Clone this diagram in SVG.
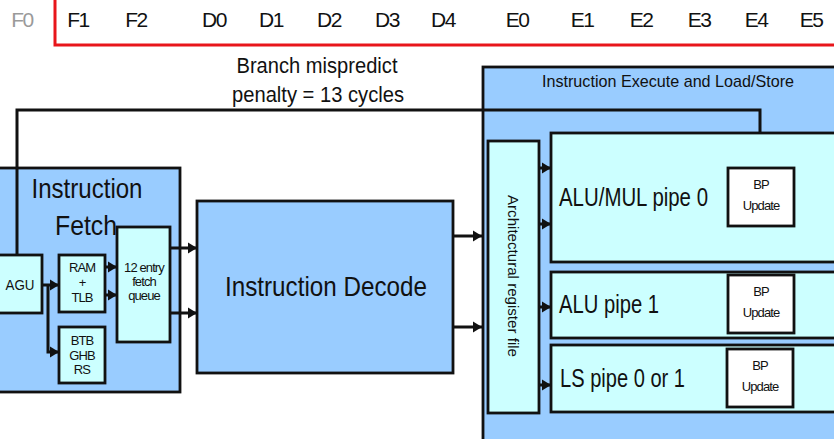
<svg xmlns="http://www.w3.org/2000/svg" width="834" height="439" viewBox="0 0 834 439">
<style>
text{font-family:"Liberation Sans",Arial,sans-serif;fill:#111}
.blue{fill:#99ccff;stroke:#111;stroke-width:2.8}
.cyan{fill:#ccffff;stroke:#111;stroke-width:2.8}
.white{fill:#fff;stroke:#111;stroke-width:2.8}
.stage{font-size:21px;letter-spacing:-1.5px;text-anchor:middle}
.sm{font-size:13px;text-anchor:middle;letter-spacing:-0.9px}
.ln{fill:none;stroke:#111;stroke-width:3}
</style>
<defs>
<marker id="ah" viewBox="0 0 10 12" markerWidth="9" markerHeight="12" refX="10" refY="6" markerUnits="userSpaceOnUse" orient="auto">
<path d="M0,0 L10,6 L0,12 z" fill="#111"/>
</marker>
</defs>
<rect width="834" height="439" fill="#fff"/>
<g id="stages">
<rect x="55" y="-5" width="790" height="50" fill="none" stroke="#e8161b" stroke-width="3"/>
<text class="stage" x="22" y="27" style="fill:#9a9a9a">F0</text>
<text class="stage" x="78" y="27">F1</text>
<text class="stage" x="136" y="27">F2</text>
<text class="stage" x="214" y="27">D0</text>
<text class="stage" x="271" y="27">D1</text>
<text class="stage" x="329" y="27">D2</text>
<text class="stage" x="387" y="27">D3</text>
<text class="stage" x="443" y="27">D4</text>
<text class="stage" x="517" y="27">E0</text>
<text class="stage" x="582" y="27">E1</text>
<text class="stage" x="641" y="27">E2</text>
<text class="stage" x="699" y="27">E3</text>
<text class="stage" x="756" y="27">E4</text>
<text class="stage" x="811" y="27">E5</text>
</g>
<g id="penalty">
<text x="317" y="73" font-size="22" text-anchor="middle" textLength="161" lengthAdjust="spacingAndGlyphs">Branch mispredict</text>
<text x="318" y="102" font-size="22" text-anchor="middle" textLength="172" lengthAdjust="spacingAndGlyphs">penalty = 13 cycles</text>
</g>
<g id="fetch">
<rect class="blue" x="-5" y="168" width="185" height="224"/>
<text x="87" y="198" font-size="28" text-anchor="middle" textLength="111" lengthAdjust="spacingAndGlyphs">Instruction</text>
<text x="86" y="235" font-size="28" text-anchor="middle" textLength="62" lengthAdjust="spacingAndGlyphs">Fetch</text>
</g>
<g id="execute">
<rect class="blue" x="483" y="67" width="360" height="380"/>
<text x="668" y="87" font-size="17" text-anchor="middle" textLength="252" lengthAdjust="spacingAndGlyphs">Instruction Execute and Load/Store</text>
</g>
<g id="agu">
<rect class="cyan" x="-5" y="255" width="47" height="58"/>
<text x="20" y="290" font-size="15" text-anchor="middle" textLength="29" lengthAdjust="spacingAndGlyphs">AGU</text>
</g>
<g id="ramtlb">
<rect class="cyan" x="59" y="255" width="46" height="57"/>
<text class="sm" x="82" y="272">RAM</text>
<text class="sm" x="82" y="287">+</text>
<text class="sm" x="82" y="302">TLB</text>
</g>
<g id="btb">
<rect class="cyan" x="59" y="327" width="46" height="56"/>
<text class="sm" x="82" y="345">BTB</text>
<text class="sm" x="82" y="360">GHB</text>
<text class="sm" x="82" y="374">RS</text>
</g>
<g id="queue">
<rect class="cyan" x="117" y="227" width="53" height="115"/>
<text class="sm" x="144" y="272" font-size="12">12 entry</text>
<text class="sm" x="144" y="286" font-size="12">fetch</text>
<text class="sm" x="144" y="300" font-size="12">queue</text>
</g>
<g id="decode">
<rect class="blue" x="197" y="201" width="256" height="172"/>
<text x="326" y="296" font-size="28" text-anchor="middle" textLength="202" lengthAdjust="spacingAndGlyphs">Instruction Decode</text>
</g>
<g id="regfile">
<rect class="cyan" x="488" y="141" width="51" height="272"/>
<text transform="translate(508,276) rotate(90)" font-size="14" text-anchor="middle" textLength="162" lengthAdjust="spacingAndGlyphs">Architectural register file</text>
</g>
<g id="pipe0">
<rect class="cyan" x="551" y="133" width="295" height="129"/>
<text x="559" y="206" font-size="25" textLength="149" lengthAdjust="spacingAndGlyphs">ALU/MUL pipe 0</text>
<rect class="white" x="728" y="168" width="66" height="58"/>
<text class="sm" x="761" y="189" font-size="14">BP</text>
<text class="sm" x="761" y="210">Update</text>
</g>
<g id="pipe1">
<rect class="cyan" x="551" y="272" width="295" height="66"/>
<text x="559" y="313" font-size="25" textLength="100" lengthAdjust="spacingAndGlyphs">ALU pipe 1</text>
<rect class="white" x="728" y="275" width="66" height="58"/>
<text class="sm" x="761" y="296" font-size="14">BP</text>
<text class="sm" x="761" y="317">Update</text>
</g>
<g id="lspipe">
<rect class="cyan" x="551" y="345" width="295" height="67"/>
<text x="560" y="387" font-size="25" textLength="125" lengthAdjust="spacingAndGlyphs">LS pipe 0 or 1</text>
<rect class="white" x="727" y="349" width="66" height="58"/>
<text class="sm" x="760" y="370" font-size="14">BP</text>
<text class="sm" x="760" y="391">Update</text>
</g>
<g id="connectors">
<polyline class="ln" points="17,255 17,110 760,110 760,133"/>
<line class="ln" x1="42" y1="285" x2="59" y2="285" marker-end="url(#ah)"/>
<polyline class="ln" points="48,285 48,352 59,352" marker-end="url(#ah)"/>
<line class="ln" x1="105" y1="267" x2="117" y2="267" marker-end="url(#ah)"/>
<line class="ln" x1="105" y1="295" x2="117" y2="295" marker-end="url(#ah)"/>
<line class="ln" x1="171" y1="248" x2="197" y2="248" marker-end="url(#ah)"/>
<line class="ln" x1="171" y1="313" x2="197" y2="313" marker-end="url(#ah)"/>
<line class="ln" x1="453" y1="236" x2="482" y2="236" marker-end="url(#ah)"/>
<line class="ln" x1="453" y1="327" x2="482" y2="327" marker-end="url(#ah)"/>
<line class="ln" x1="539" y1="168" x2="551" y2="168" marker-end="url(#ah)"/>
<line class="ln" x1="539" y1="224" x2="551" y2="224" marker-end="url(#ah)"/>
<line class="ln" x1="539" y1="307" x2="551" y2="307" marker-end="url(#ah)"/>
<line class="ln" x1="539" y1="385" x2="551" y2="385" marker-end="url(#ah)"/>
</g>
</svg>
